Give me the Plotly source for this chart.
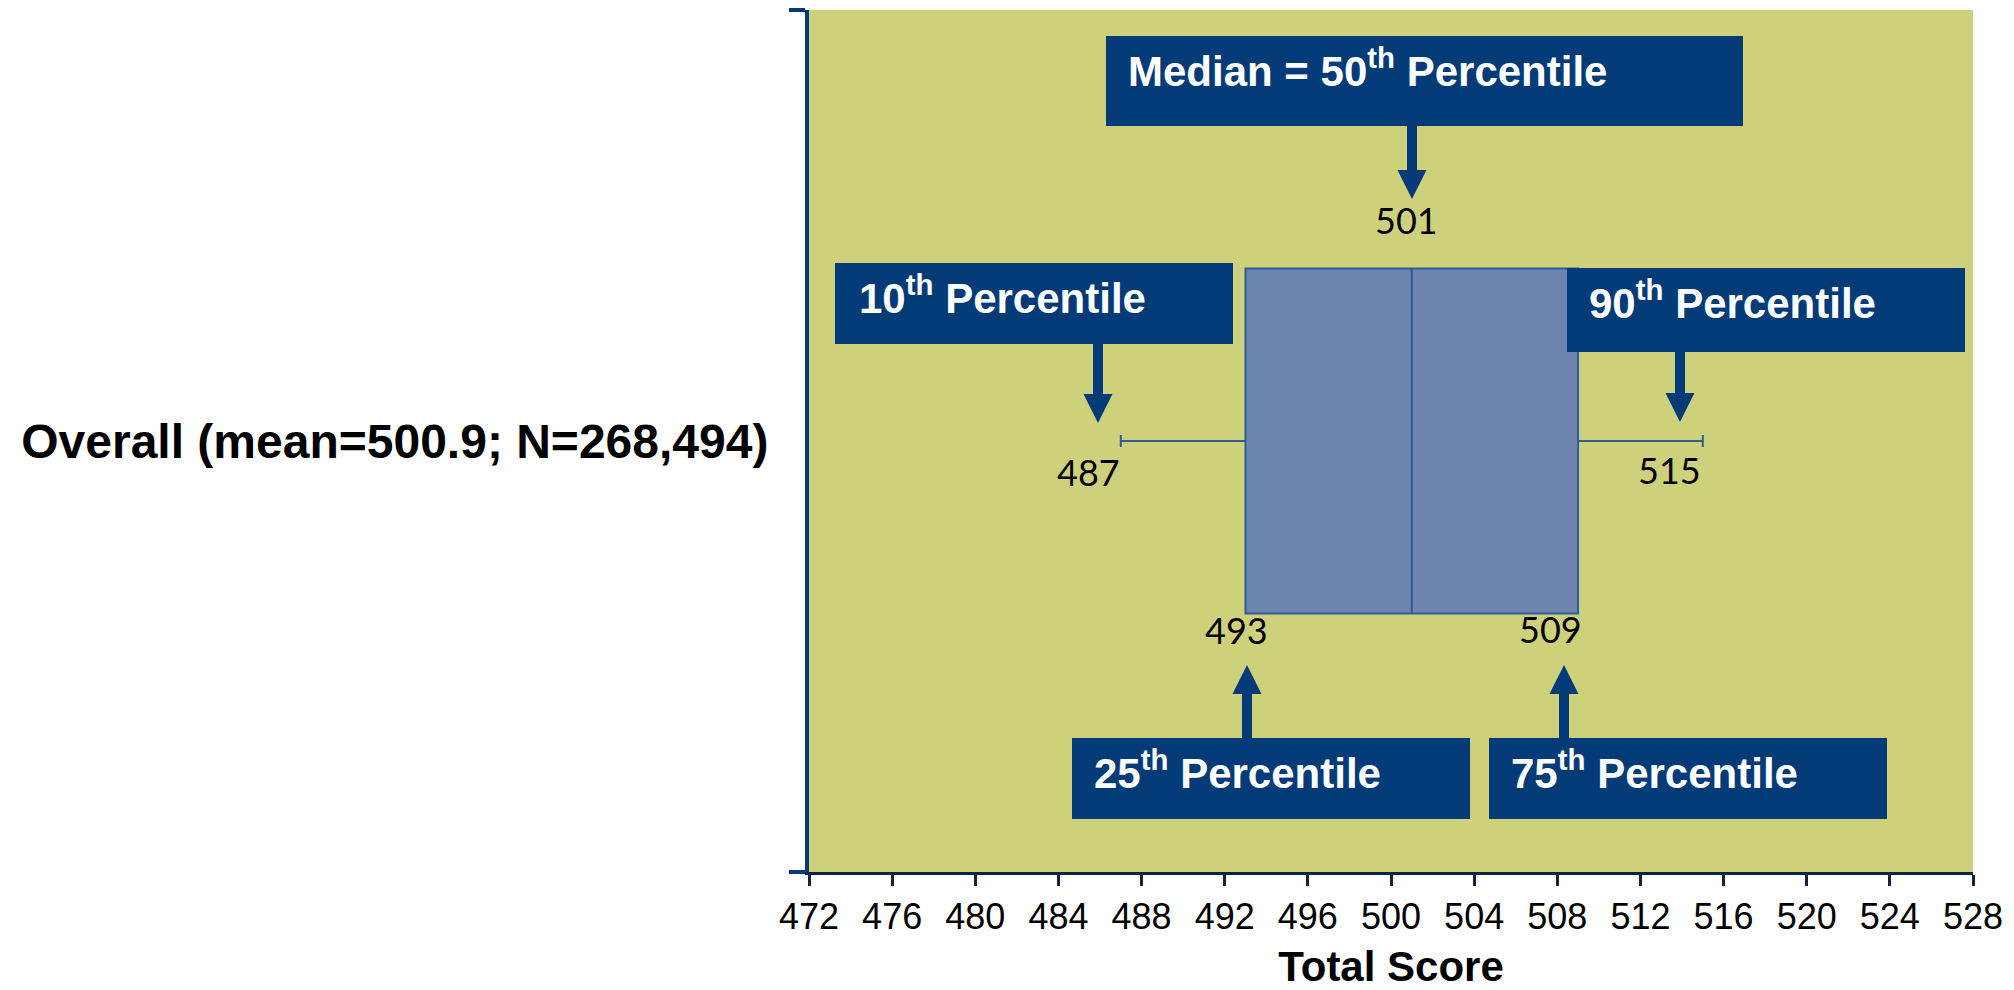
import plotly.graph_objects as go

# ---- data -------------------------------------------------------------
groups = ["Overall (mean=500.9; N=268,494)"]
p10 = [487]
p25 = [493]
p50 = [501]
p75 = [509]
p90 = [515]

x_min, x_max, x_step = 472, 528, 4

callout_texts = [
    "Median = 50<sup>th</sup> Percentile",
    "10<sup>th</sup> Percentile",
    "90<sup>th</sup> Percentile",
    "25<sup>th</sup> Percentile",
    "75<sup>th</sup> Percentile",
]

# ---- styling ----------------------------------------------------------
NAVY = "#023B78"
AXIS_DARK = "#0F2341"
PLOT_BG = "#CED17C"
BOX_FILL = "#6D85AF"
BOX_LINE = "#2F5C94"
SANS = "Arial, 'Liberation Sans', sans-serif"
NUM_FONT = "Lato, Carlito, Calibri, sans-serif"

W, H = 2014, 990
L, R, T, B = 809, 41, 10, 118
PW = W - L - R
PH = H - T - B


def px(x):
    """pixel column -> paper x"""
    return (x - L) / PW


def py(y):
    """pixel row -> paper y"""
    return (T + PH - y) / PH


fig = go.Figure()
fig.add_trace(go.Box(
    y=groups, q1=p25, median=p50, q3=p75,
    lowerfence=p10, upperfence=p90,
    orientation="h", width=0.4, whiskerwidth=0.035,
    boxpoints=False,
    fillcolor=BOX_FILL, line=dict(color=BOX_LINE, width=2),
    hoverinfo="skip", showlegend=False,
))

# ---- callout boxes with arrows ---------------------------------------
# (box x0, y0, x1, y1), text anchor (x, y), arrow (x, start, head base, tip)
callout_layout = [
    ((1106, 36, 1743, 126), (1126, 68), (1412, 126, 170, 199)),
    ((835, 263, 1233, 344), (857, 295), (1098, 344, 394, 423)),
    ((1567, 268, 1965, 352), (1587, 300), (1680, 352, 393, 422)),
    ((1072, 738, 1470, 819), (1092, 770), (1247, 738, 694, 665)),
    ((1489, 738, 1887, 819), (1509, 770), (1564, 738, 694, 665)),
]

shapes = []
annotations = []
for text, (bx, tpos, arr) in zip(callout_texts, callout_layout):
    x0, y0, x1, y1 = bx
    shapes.append(dict(
        type="rect", xref="paper", yref="paper", layer="above",
        x0=px(x0), x1=px(x1), y0=py(y1), y1=py(y0),
        fillcolor=NAVY, line=dict(width=0),
    ))
    ax, a0, ab, at = arr
    pts = [(ax - 5, a0), (ax - 5, ab), (ax - 14.5, ab), (ax, at),
           (ax + 14.5, ab), (ax + 5, ab), (ax + 5, a0)]
    path = "M " + " L ".join(f"{px(u):.5f},{py(v):.5f}" for u, v in pts) + " Z"
    shapes.append(dict(
        type="path", xref="paper", yref="paper", layer="above",
        path=path, fillcolor=NAVY, line=dict(width=0),
    ))
    annotations.append(dict(
        text=text, xref="paper", yref="paper",
        x=px(tpos[0]), y=py(tpos[1]), xanchor="left", yanchor="middle",
        showarrow=False,
        font=dict(family=SANS, size=42, color="white", weight="bold"),
    ))

# ---- value labels next to the box-plot marks --------------------------
value_labels = [
    (p50[0], "center", -5, 220),
    (p10[0], "right", 1, 472),
    (p90[0], "right", 0, 470),
    (p25[0], "center", -9, 630),
    (p75[0], "center", -28, 629),
]
for val, anchor, shift, row in value_labels:
    annotations.append(dict(
        text=str(val), xref="x", yref="paper",
        x=val, y=py(row), xanchor=anchor, yanchor="middle", xshift=shift,
        showarrow=False,
        font=dict(family=NUM_FONT, size=36, color="black"),
    ))

fig.update_layout(
    width=W, height=H,
    margin=dict(l=L, r=R, t=T, b=B, pad=0),
    paper_bgcolor="white",
    plot_bgcolor=PLOT_BG,
    shapes=shapes,
    annotations=annotations,
    showlegend=False,
    xaxis=dict(
        range=[x_min, x_max], tick0=x_min, dtick=x_step,
        automargin=False,
        showgrid=False, zeroline=False,
        showline=True, linecolor=AXIS_DARK, linewidth=3,
        ticks="outside", ticklen=11, tickwidth=3, tickcolor=AXIS_DARK,
        tickfont=dict(family=SANS, size=36, color="black"),
        title=dict(text="Total Score", standoff=29,
                   font=dict(family=SANS, size=42, color="black", weight="bold")),
    ),
    yaxis=dict(
        type="category", range=[-0.5, 0.5],
        automargin=False,
        tickson="boundaries",
        showgrid=False, zeroline=False,
        showline=True, linecolor=NAVY, linewidth=4,
        ticks="outside", ticklen=16, tickwidth=4, tickcolor=NAVY,
        ticklabelstandoff=27,
        tickfont=dict(family=SANS, size=48, color="black", weight="bold"),
    ),
)

fig.write_html("out.html")
